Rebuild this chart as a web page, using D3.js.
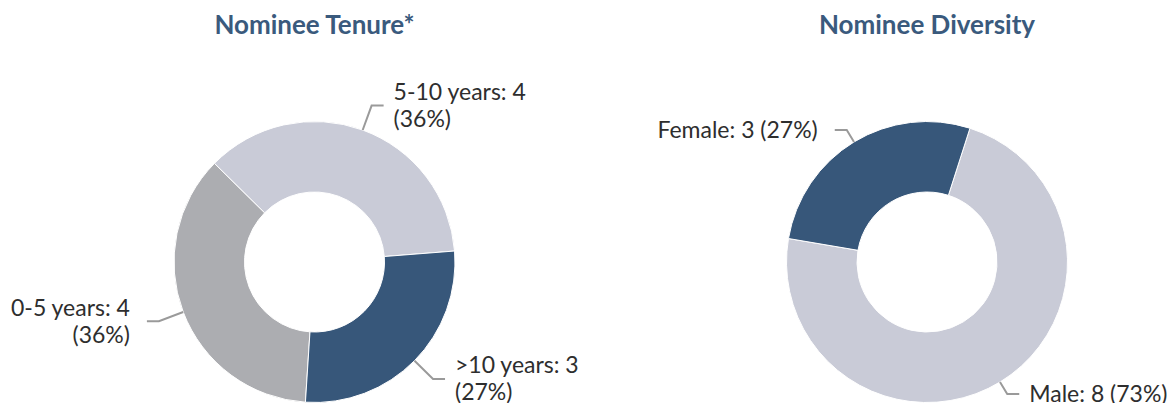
<!DOCTYPE html>
<html>
<head>
<meta charset="utf-8">
<script src="https://cdn.jsdelivr.net/npm/d3@7"></script>
<style>
  body { margin: 0; background: #fff; }
  svg { display: block; font-family: Lato, "Open Sans", sans-serif; }
</style>
</head>
<body>
<svg id="chart" width="1167" height="403"></svg>
<script>
// data
let tenureCats = ["0-5 years", "5-10 years", ">10 years"];
let tenureVals = [4, 4, 3];
let tenureColors = ["#acadb1", "#c9cbd7", "#37577a"];

let diversityCats = ["Male", "Female"];
let diversityVals = [8, 3];
let diversityColors = ["#c9cbd7", "#37577a"];

let svg = d3.select("#chart");
let deg = Math.PI / 180;

//draws one donut with title and leader-line labels
function drawDonut(opts) {
  let g = svg.append("g").attr("transform", "translate(" + opts.cx + "," + opts.cy + ")");
  let total = d3.sum(opts.values);
  let items = opts.cats.map((c, i) => ({ name: c, value: opts.values[i], color: opts.colors[i] }));

  let pie = d3
    .pie()
    .sort(null)
    .value(d => d.value)
    .startAngle(opts.start * deg)
    .endAngle(opts.start * deg + 2 * Math.PI);
  let arcs = pie(items);

  let arc = d3.arc().innerRadius(opts.inner).outerRadius(opts.outer);

  g.selectAll("path.slice")
    .data(arcs)
    .join("path")
    .attr("class", "slice")
    .attr("d", arc)
    .attr("fill", d => d.data.color)
    .attr("stroke", "#fff")
    .attr("stroke-width", 1);

  svg.append("text")
    .attr("x", opts.cx)
    .attr("y", 34)
    .attr("text-anchor", "middle")
    .attr("font-size", 26)
    .attr("font-weight", 700)
    .attr("fill", "#3a5a7d")
    .text(opts.title);

  arcs.forEach(d => {
    let a = (d.startAngle + d.endAngle) / 2;
    let s = Math.sin(a), c = -Math.cos(a);
    let right = s >= 0;
    let p0 = [opts.outer * s, opts.outer * c];
    let rr = opts.outer + opts.elbow;
    let p1 = [rr * s, rr * c];
    let p2 = [p1[0] + (right ? 12 : -12), p1[1]];

    g.append("path")
      .attr("d", d3.line()([p0, p1, p2]))
      .attr("fill", "none")
      .attr("stroke", "#9a9a9a")
      .attr("stroke-width", 2);

    let pct = Math.round((d.data.value / total) * 100);
    let first = d.data.name + ": " + d.data.value;
    let lines = opts.wrap ? [first, "(" + pct + "%)"] : [first + " (" + pct + "%)"];
    let lh = 27;
    let tx = p2[0] + (right ? 10 : -17);
    let t = g.append("text")
      .attr("text-anchor", right ? "start" : "end")
      .attr("font-size", 23)
      .attr("fill", "#2e2e2e");
    lines.forEach((ln, i) => {
      t.append("tspan")
        .attr("x", tx)
        .attr("y", p1[1] + 8 + (i - (lines.length - 1) / 2) * lh)
        .text(ln);
    });
  });
}

drawDonut({
  title: "Nominee Tenure*",
  cats: tenureCats,
  values: tenureVals,
  colors: tenureColors,
  cx: 314.5,
  cy: 262,
  outer: 140.5,
  inner: 70,
  start: 183.7,
  elbow: 26,
  wrap: true
});

drawDonut({
  title: "Nominee Diversity",
  cats: diversityCats,
  values: diversityVals,
  colors: diversityColors,
  cx: 927,
  cy: 262,
  outer: 140.5,
  inner: 70,
  start: 17.8,
  elbow: 14,
  wrap: false
});
</script>
</body>
</html>
